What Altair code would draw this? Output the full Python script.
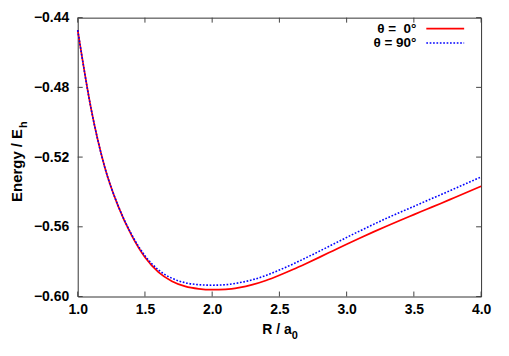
import altair as alt
import pandas as pd

# ---- data ----
R = [1.0, 1.1, 1.2, 1.3, 1.4, 1.5, 1.6, 1.7, 1.8, 1.9, 2.0,
     2.1, 2.2, 2.3, 2.4, 2.5, 2.6, 2.7, 2.8, 2.9, 3.0,
     3.1, 3.2, 3.3, 3.4, 3.5, 3.6, 3.7, 3.8, 3.9, 4.0]
E_0 = [-0.4472, -0.4925, -0.5255, -0.5480, -0.5648, -0.5775, -0.5860, -0.5912, -0.5942, -0.5956, -0.5961,
       -0.5959, -0.5949, -0.5932, -0.5908, -0.5878, -0.5845, -0.5810, -0.5774, -0.5737, -0.5700,
       -0.5664, -0.5629, -0.5595, -0.5562, -0.5530, -0.5498, -0.5466, -0.5433, -0.5400, -0.5367]
E_90 = [-0.4472, -0.4925, -0.5255, -0.5478, -0.5643, -0.5766, -0.5847, -0.5895, -0.5921, -0.5932, -0.5935,
        -0.5932, -0.5921, -0.5904, -0.5879, -0.5848, -0.5814, -0.5777, -0.5739, -0.5700, -0.5661,
        -0.5623, -0.5586, -0.5550, -0.5516, -0.5483, -0.5449, -0.5416, -0.5382, -0.5348, -0.5314]
x_ticks = [1.0, 1.5, 2.0, 2.5, 3.0, 3.5, 4.0]
y_ticks = [-0.60, -0.56, -0.52, -0.48, -0.44]
legend_labels = ["θ =\u00a0\u00a00°", "θ = 90°"]
colors = ["#ff0000", "#0000ff"]
x_title = ["R / a", "0"]
y_title = ["Energy / E", "h"]

W, H = 405, 280
FONT = "Liberation Sans"
TICK = "#444444"

df = pd.DataFrame({"R": R, "E0": E_0, "E90": E_90})
xs = alt.Scale(domain=[1.0, 4.0], nice=False, zero=False)
ys = alt.Scale(domain=[-0.60, -0.44], nice=False, zero=False)

xaxis = alt.Axis(values=x_ticks, format=".1f", title=None, ticks=False, domain=False,
                 grid=False, labelFont=FONT, labelFontWeight="bold", labelFontSize=14,
                 labelPadding=6, labelColor="black", labelFlush=False)
yaxis = alt.Axis(values=y_ticks, format=".2f", title=None, ticks=False, domain=False,
                 grid=False, labelFont=FONT, labelFontWeight="bold", labelFontSize=14,
                 labelPadding=9, labelColor="black", labelFlush=False)

red = alt.Chart(df).mark_line(color=colors[0], strokeWidth=1.7, interpolate="monotone").encode(
    x=alt.X("R:Q", scale=xs, axis=xaxis),
    y=alt.Y("E0:Q", scale=ys, axis=yaxis),
)
blue = alt.Chart(df).mark_line(color=colors[1], strokeWidth=1.6, strokeDash=[1.7, 1.7],
                               interpolate="monotone").encode(
    x=alt.X("R:Q", scale=xs, axis=xaxis),
    y=alt.Y("E90:Q", scale=ys, axis=yaxis),
)

xt = pd.DataFrame({"R": x_ticks})
yt = pd.DataFrame({"E0": y_ticks})
tick_layers = []
for y0, y1 in [(H, H - 5), (0, 5)]:
    tick_layers.append(alt.Chart(xt).mark_rule(color=TICK, strokeWidth=1).encode(
        x=alt.X("R:Q", scale=xs, axis=xaxis), y=alt.value(y0), y2=alt.value(y1)))
for x0, x1 in [(0, 5), (W, W - 5)]:
    tick_layers.append(alt.Chart(yt).mark_rule(color=TICK, strokeWidth=1).encode(
        y=alt.Y("E0:Q", scale=ys, axis=yaxis), x=alt.value(x0), x2=alt.value(x1)))


def txt(s, x, y, size, angle=0, align="left"):
    return alt.Chart(pd.DataFrame({"t": [s]})).mark_text(
        align=align, baseline="alphabetic", font=FONT, fontWeight="bold",
        fontSize=size, angle=angle, color="black").encode(
        x=alt.value(x), y=alt.value(y), text="t:N")


titles = [
    txt(x_title[0], 185.3, 318, 14),
    txt(x_title[1], 215, 322.3, 11),
    txt(y_title[0], -56, 185, 15, angle=270),
    txt(y_title[1], -51, 110.8, 11, angle=270),
]

legend_layers = []
for i, (lab, col) in enumerate(zip(legend_labels, colors)):
    yy = 11 + i * 14.5
    legend_layers.append(alt.Chart(pd.DataFrame({"t": [lab]})).mark_text(
        align="right", baseline="middle", font=FONT, fontWeight="bold", fontSize=13.5,
        color="black").encode(x=alt.value(340), y=alt.value(yy), text="t:N"))
    legend_layers.append(alt.Chart(pd.DataFrame({"t": [lab]})).mark_rule(
        color=col, strokeWidth=1.6, strokeDash=[1.7, 1.7] if i == 1 else [1, 0]).encode(
        x=alt.value(350), x2=alt.value(388), y=alt.value(yy)))

chart = alt.layer(red, blue, *tick_layers, *titles, *legend_layers).properties(
    width=W, height=H,
    autosize=alt.AutoSizeParams(type="none"),
    padding={"left": 70, "top": 9, "right": 20, "bottom": 50},
    background="white",
).configure_view(stroke="#333333", strokeWidth=1)

chart.save("out.html", embed_options={"renderer": "svg", "actions": False})
